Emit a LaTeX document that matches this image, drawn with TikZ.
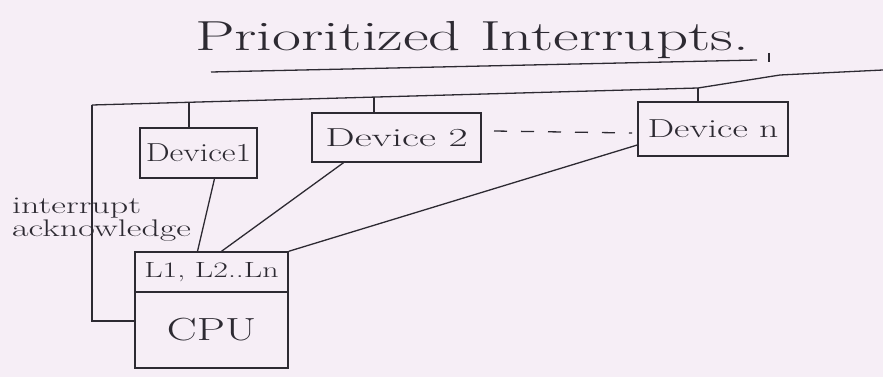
\documentclass[tikz,border=0pt]{standalone}
\usepackage{graphicx}
\usetikzlibrary{calc}
\definecolor{paper}{RGB}{246,238,246}
\definecolor{ink}{RGB}{45,42,50}
\newcommand{\hw}[2]{\scalebox{#1}[1]{#2}}
\begin{document}
\begin{tikzpicture}[x=1pt,y=-1pt,
  box/.style={draw=ink, line width=1.4pt, rectangle, inner sep=0pt, anchor=center, text=ink},
  wire/.style={draw=ink, line width=1.3pt},
  lbl/.style={text=ink, inner sep=0pt}]
\fill[paper] (0,0) rectangle (883,377);
\useasboundingbox (0,0) rectangle (883,377);
% title
\node[lbl, font=\fontsize{42}{44}\selectfont] (title) at (472,40) {\hw{1.5}{Prioritized Interrupts.}};
\draw[wire] (211,72) -- (757,60);
\draw[wire] (769,53) -- (769,62);
% devices
\node[box, minimum width=117pt, minimum height=50pt, font=\fontsize{26}{28}\selectfont] (d1) at (198.5,153) {\hw{1.3}{Device1}};
\node[box, minimum width=169pt, minimum height=49pt, font=\fontsize{26}{28}\selectfont] (d2) at (396.5,137.5) {\hw{1.6}{Device 2}};
\node[box, minimum width=150pt, minimum height=54pt, font=\fontsize{26}{28}\selectfont] (dn) at (713,129) {\hw{1.45}{Device n}};
% CPU
\node[box, minimum width=153pt, minimum height=40pt, font=\fontsize{22}{24}\selectfont] (lt) at (211.5,272) {\hw{1.45}{L1, L2..Ln}};
\node[box, minimum width=153pt, minimum height=76pt, font=\fontsize{32}{34}\selectfont] (cpu) at (211.5,330) {\hw{1.4}{CPU}};
% bus
\coordinate (b0) at (92,105);
\coordinate (b1) at (698,88);
\coordinate (b2) at (780,75);
\coordinate (b3) at (883,70);
\coordinate (t1) at (189,102.3);
\coordinate (t2) at (374,97.1);
\draw[wire] (b0) -- (b1) -- (b2) -- (b3);
\draw[wire] (t1) -- (t1 |- d1.north);
\draw[wire] (t2) -- (t2 |- d2.north);
\draw[wire] (b1) -- (b1 |- dn.north);
% left acknowledge line
\coordinate (k) at (92,321);
\draw[wire] (b0) -- (k) -- (k -| cpu.west);
% device to CPU lines
\draw[wire] ([xshift=16pt]d1.south) -- ([xshift=-14pt]lt.north);
\draw[wire] ([xshift=-53pt]d2.south) -- ([xshift=10pt]lt.north);
\draw[wire] ([yshift=-16pt]dn.west) -- (lt.north east);
% dashes between device 2 and device n
\coordinate (e1) at (494,131);
\coordinate (e2) at (632,133);
\draw[wire, dash pattern=on 13pt off 14pt] (e1) -- (e2);
% label
\node[lbl, anchor=north west, align=left, font=\fontsize{24}{19}\selectfont] (ack) at (12,198) {\hw{1.5}{interrupt}\\\hw{1.5}{acknowledge}};
\end{tikzpicture}
\end{document}
